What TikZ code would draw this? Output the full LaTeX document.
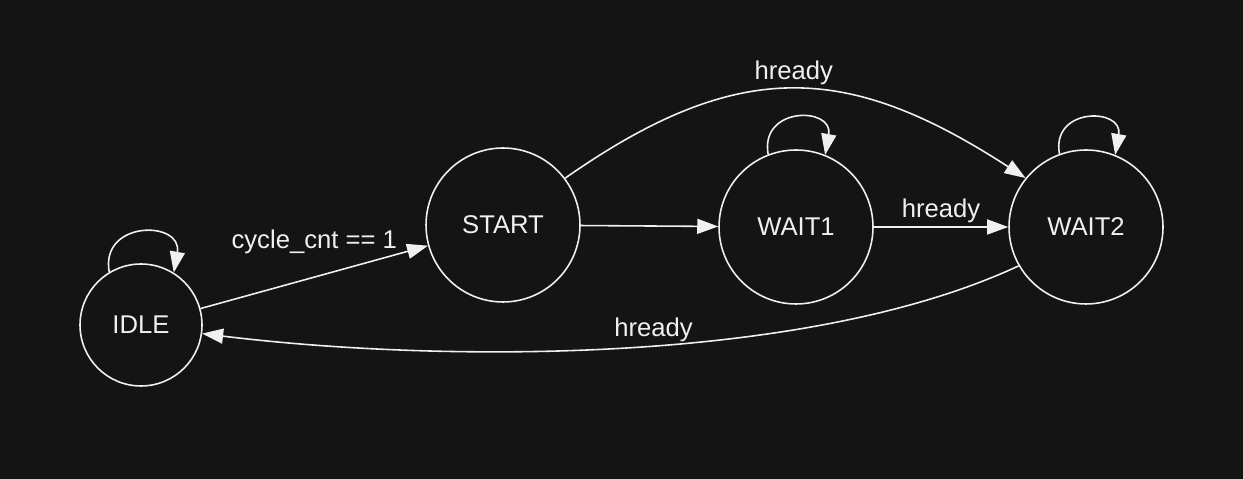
\documentclass[tikz,border=0pt]{standalone}
\usepackage{fontspec}
\setmainfont{Liberation Sans}
\usetikzlibrary{arrows.meta}
\definecolor{bgcol}{RGB}{20,20,20}
\definecolor{fgcol}{RGB}{240,240,240}
\tikzset{
  state/.style={draw=fgcol,circle,minimum size=3.08cm,inner sep=0pt,line width=0.9pt},
  trans/.style={draw=fgcol,line width=0.9pt,-{Triangle[length=0.42cm,width=0.3cm]}},
  lbl/.style={inner sep=2pt}
}
\begin{document}
\begin{tikzpicture}[x=0.02cm,y=0.02cm,every node/.style={text=fgcol,font=\fontsize{14.6}{17}\selectfont}]
\fill[bgcol] (0,0) rectangle (1243,479);
\node[state,minimum size=2.44cm] (i) at (141,154) {IDLE};
\foreach \n/\x/\y/\t in {s/503/254/START,w1/796/252/WAIT1,w2/1086/252/WAIT2}
  \node[state] (\n) at (\x,\y) {\t};
% self loops
\draw[trans] (i.121) to[out=100,in=80,looseness=2.1] (i.58);
\draw[trans] (w1.111) to[out=100,in=80,looseness=2.2] (w1.68);
\draw[trans] (w2.110) to[out=100,in=80,looseness=2.2] (w2.68);
% transitions
\draw[trans] (i) -- (s) node[midway,above=11pt,lbl] {cycle\_cnt == 1};
\draw[trans] (s) -- (w1);
\draw[trans] (w1) -- (w2) node[midway,above,lbl] {hready};
\draw[trans] (s.37) to[out=35,in=147,looseness=1.18] node[pos=0.5,above,lbl] {hready} (w2.141);
\draw[trans] (w2.210) to[out=205,in=-7,looseness=0.74] node[pos=0.46,above,lbl] {hready} (i.-8);
\end{tikzpicture}
\end{document}
